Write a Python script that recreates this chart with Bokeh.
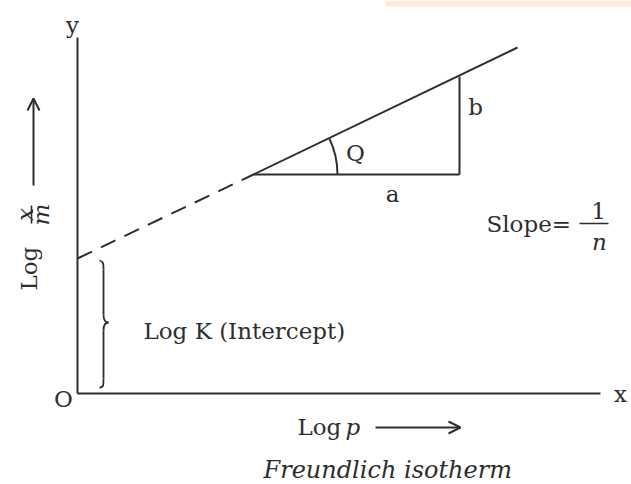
from bokeh.plotting import figure
from bokeh.models import Range1d, Arrow, OpenHead
from bokeh.core.properties import value
from bokeh.embed import file_html
from bokeh.resources import INLINE
import math

# ---- diagram data (origin O at axes corner, units = pixels) ----
axis_x_end = 523
axis_y_end = 356
dash_x = [0, 176]
dash_y = [135, 219]
solid_x = [176, 440]
solid_y = [219, 346]
tri_base_x = [176, 382]
tri_base_y = [219, 219]
tri_vert_x = [382, 382]
tri_vert_y = [219, 317]
arc_center = (176, 219)
arc_radius = 84
arc_angle = math.atan2(solid_y[1] - solid_y[0], solid_x[1] - solid_x[0])

# brace pieces
brace_top = 133
brace_tip = 71
brace_bot = 6
brace_body_x = 26
brace_end_x = 22
brace_tip_x = 31

# cropped highlight strip at the top edge
strip_left, strip_right, strip_bottom, strip_top = 308, 554, 387, 393

INK = "#2e2e2e"
FONT = "DejaVu Serif"

p = figure(width=631, height=484, output_backend="svg", toolbar_location=None,
           x_range=Range1d(-77, 554), y_range=Range1d(-91, 393),
           min_border=0, outline_line_color=None)
p.axis.visible = False
p.grid.visible = False
p.background_fill_color = "white"
p.border_fill_color = "white"

p.quad(left=[strip_left], right=[strip_right], bottom=[strip_bottom], top=[strip_top],
       fill_color="#fdeadb", line_color=None)

# axes
p.line([0, 0], [0, axis_y_end], line_color=INK, line_width=2)
p.line([0, axis_x_end], [0, 0], line_color=INK, line_width=2)

# line
p.line(dash_x, dash_y, line_color=INK, line_width=2, line_dash="16 10")
p.line(solid_x, solid_y, line_color=INK, line_width=2)
p.line(tri_base_x, tri_base_y, line_color=INK, line_width=2)
p.line(tri_vert_x, tri_vert_y, line_color=INK, line_width=2)
p.arc(x=[arc_center[0]], y=[arc_center[1]], radius=arc_radius,
      start_angle=0, end_angle=arc_angle, line_color=INK, line_width=2)

# brace
bx, ex, tx = brace_body_x, brace_end_x, brace_tip_x
p.bezier(x0=[ex, bx, tx, bx], y0=[brace_top, brace_tip + 8, brace_tip, brace_bot + 9],
         x1=[bx, tx, bx, ex], y1=[brace_top - 9, brace_tip, brace_tip - 8, brace_bot],
         cx0=[bx, bx, bx + 2, bx], cy0=[brace_top - 1, brace_tip + 2, brace_tip, brace_bot + 2],
         cx1=[bx, bx + 2, bx, bx], cy1=[brace_top - 3, brace_tip, brace_tip - 2, brace_bot],
         line_color=INK, line_width=1.8)
p.line([bx, bx], [brace_top - 9, brace_tip + 8], line_color=INK, line_width=1.8)
p.line([bx, bx], [brace_tip - 8, brace_bot + 9], line_color=INK, line_width=1.8)

def txt(x, y, s, size="23px", align="left", style="normal", angle=0):
    p.text(x=[x], y=[y], text=[s], text_font=value(FONT), text_font_size=size,
           text_color=INK, text_align=align, text_baseline="middle",
           text_font_style=style, angle=angle)

txt(-5, 369, "y", align="center")
txt(-14, -5, "O", align="center")
txt(543, 0, "x", align="center")
txt(66, 63, "Log K (Intercept)")
txt(409, 170, "Slope=")
p.line([502, 531], [170, 170], line_color=INK, line_width=1.6)
txt(521, 183, "1", align="center")
txt(522, 152, "n", align="center", style="italic")
txt(315, 200, "a", align="center")
txt(398, 287, "b", align="center")
txt(278, 241, "Q", align="center")
txt(220, -33, "Log")
txt(268, -33, "p", style="italic")
txt(186, -76, "Freundlich isotherm", size="24px", style="italic")

# y label (rotated)
txt(-49, 103, "Log", angle=math.pi / 2)
p.line([-46, -46], [170, 188], line_color=INK, line_width=1.6)
txt(-53, 179, "x", align="center", style="italic", angle=math.pi / 2)
txt(-37, 179, "m", align="center", style="italic", angle=math.pi / 2)

# arrows
p.add_layout(Arrow(end=OpenHead(size=12, line_width=2, line_color=INK),
                   x_start=298, y_start=-34, x_end=383, y_end=-34,
                   line_color=INK, line_width=2))
p.add_layout(Arrow(end=OpenHead(size=12, line_width=2, line_color=INK),
                   x_start=-44, y_start=208, x_end=-44, y_end=295,
                   line_color=INK, line_width=2))

open("out.html", "w").write(file_html(p, INLINE))
